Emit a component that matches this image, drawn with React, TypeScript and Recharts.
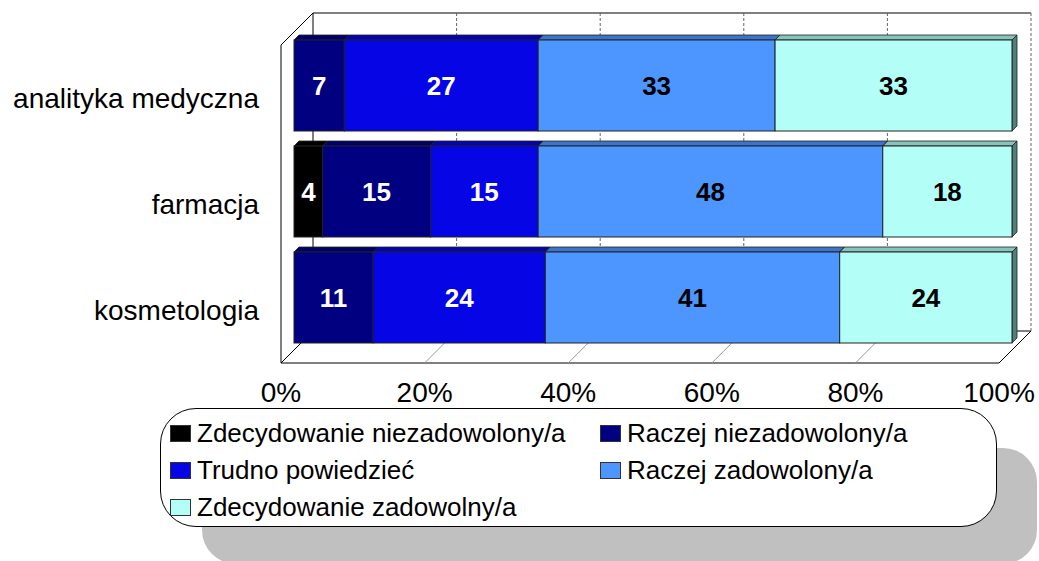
import { BarChart, Bar, XAxis, YAxis, CartesianGrid, Legend, LabelList } from "recharts";

const FONT = '"Liberation Sans", Arial, sans-serif';

const categories = ["analityka medyczna", "farmacja", "kosmetologia"];
const seriesNames = [
  "Zdecydowanie niezadowolony/a",
  "Raczej niezadowolony/a",
  "Trudno powiedzieć",
  "Raczej zadowolony/a",
  "Zdecydowanie zadowolny/a",
];
const zdecydowanieNie = [0, 4, 0];
const raczejNie = [7, 15, 11];
const trudno = [27, 15, 24];
const raczejTak = [33, 48, 41];
const zdecydowanieTak = [33, 18, 24];
const xTicks = [0, 0.2, 0.4, 0.6, 0.8, 1];

// 3D look: bars sit in the middle plane, back wall is BACK px behind, floor front FRONT px ahead
const BACK = 19;
const FRONT = 13;
const DEPTH = 5;

const series = [
  { key: "s1", values: zdecydowanieNie, fill: "#000000", top: "#000000", side: "#000000", text: "#fff" },
  { key: "s2", values: raczejNie, fill: "#000080", top: "#000066", side: "#00004d", text: "#fff" },
  { key: "s3", values: trudno, fill: "#0505E6", top: "#0303B0", side: "#020290", text: "#fff" },
  { key: "s4", values: raczejTak, fill: "#4D96FF", top: "#3B74C8", side: "#2f5ea3", text: "#000" },
  { key: "s5", values: zdecydowanieTak, fill: "#B3FFF7", top: "#86C4BC", side: "#4F807A", text: "#000" },
];

const data = categories.map((name, i) => {
  const row: any = { name };
  series.forEach((s) => (row[s.key] = s.values[i]));
  return row;
});

const Box3D = (p: any) => {
  const { x, y, width: w, height: h, fill, top, side } = p;
  if (!w || w <= 0) return null;
  return (
    <g>
      <polygon
        points={`${x},${y} ${x + DEPTH},${y - DEPTH} ${x + w + DEPTH},${y - DEPTH} ${x + w},${y}`}
        fill={top}
        stroke="#222"
        strokeWidth={0.8}
      />
      <polygon
        points={`${x + w},${y} ${x + w + DEPTH},${y - DEPTH} ${x + w + DEPTH},${y + h - DEPTH} ${x + w},${y + h}`}
        fill={side}
        stroke="#222"
        strokeWidth={0.8}
      />
      <rect x={x} y={y} width={w} height={h} fill={fill} stroke="#222" strokeWidth={1} />
    </g>
  );
};

const gridVertical = (p: any) => {
  const { x1, y1, y2 } = p;
  const idx = p.index ?? Math.round((x1 - 294) / 143.6);
  const first = idx === 0;
  const last = idx === xTicks.length - 1;
  return (
    <g key={`v-${idx}`}>
      <line
        x1={x1 + BACK}
        y1={y1 - BACK}
        x2={x1 + BACK}
        y2={y2 - BACK}
        stroke={first ? "#000" : "#666"}
        strokeDasharray={first ? undefined : "3 2"}
      />
      <line
        x1={x1 - FRONT}
        y1={y2 + FRONT}
        x2={x1 + BACK}
        y2={y2 - BACK}
        stroke={first || last ? "#000" : "#999"}
      />
      {first && (
        <>
          <line x1={x1 - FRONT} y1={y1 + FRONT} x2={x1 - FRONT} y2={y2 + FRONT} stroke="#000" />
          <line x1={x1 - FRONT} y1={y1 + FRONT} x2={x1 + BACK} y2={y1 - BACK} stroke="#000" />
        </>
      )}
    </g>
  );
};

const gridHorizontal = (p: any) => {
  const { x1, x2, y1 } = p;
  const isTop = y1 < 200;
  return (
    <g key={`h-${isTop ? "t" : "b"}`}>
      <line x1={x1 + BACK} y1={y1 - BACK} x2={x2 + BACK} y2={y1 - BACK} stroke="#000" />
      {!isTop && (
        <line x1={x1 - FRONT} y1={y1 + FRONT} x2={x2 - FRONT} y2={y1 + FRONT} stroke="#000" />
      )}
    </g>
  );
};

const XTick = ({ x, y, payload }: any) => (
  <text x={x - FRONT} y={y + 44} textAnchor="middle" fontFamily={FONT} fontSize={28} fill="#000">
    {`${Math.round(payload.value * 100)}%`}
  </text>
);

const YTick = ({ x, y, payload }: any) => (
  <text x={x - 27} y={y + 23} textAnchor="end" fontFamily={FONT} fontSize={28} fill="#000">
    {payload.value}
  </text>
);

const makeLabel = (color: string) => (p: any) => {
  const { x, y, width, height, value } = p;
  if (!value) return null;
  return (
    <text
      x={x + width / 2}
      y={y + height / 2}
      textAnchor="middle"
      dominantBaseline="central"
      fontFamily={FONT}
      fontWeight="bold"
      fontSize={26}
      fill={color}
    >
      {value}
    </text>
  );
};

const LegendBox = (props: any) => {
  const items = [...(props.payload || [])].sort(
    (a: any, b: any) => seriesNames.indexOf(a.value) - seriesNames.indexOf(b.value)
  );
  return (
    <div style={{ position: "relative", width: 837, height: 119, fontFamily: FONT, fontSize: 26 }}>
      <div
        style={{
          position: "absolute",
          left: 42,
          top: 40,
          width: 835,
          height: 116,
          background: "#C0C0C0",
          borderRadius: 34,
        }}
      />
      <div
        style={{
          position: "absolute",
          left: 0,
          top: 0,
          width: 835,
          height: 117,
          background: "#fff",
          border: "1px solid #000",
          borderRadius: 36,
        }}
      />
      {items.map((it: any, i: number) => (
        <div
          key={i}
          style={{
            position: "absolute",
            left: i % 2 === 0 ? 10 : 440,
            top: 7 + Math.floor(i / 2) * 37,
            height: 37,
            display: "flex",
            alignItems: "center",
            whiteSpace: "nowrap",
            color: "#000",
          }}
        >
          <span
            style={{
              display: "inline-block",
              width: 19,
              height: 15,
              background: it.color,
              border: "1px solid #333",
              marginRight: 6,
            }}
          />
          {it.value}
        </div>
      ))}
    </div>
  );
};

export default function App() {
  return (
    <div style={{ position: "absolute", left: 0, top: 0, width: 1039, height: 561, background: "#fff" }}>
      <BarChart
        width={1039}
        height={561}
        data={data}
        layout="vertical"
        stackOffset="expand"
        margin={{ top: 32, right: 27, left: 0, bottom: 171 }}
        barSize={91}
      >
        <CartesianGrid
          vertical={gridVertical}
          horizontal={gridHorizontal}
          horizontalCoordinatesGenerator={({ offset }: any) => [offset.top, offset.top + offset.height]}
        />
        <XAxis
          type="number"
          domain={[0, 1]}
          ticks={xTicks}
          axisLine={false}
          tickLine={false}
          height={40}
          tick={<XTick />}
          interval={0}
        />
        <YAxis type="category" dataKey="name" width={294} axisLine={false} tickLine={false} tick={<YTick />} />
        <Legend
          layout="horizontal"
          verticalAlign="middle"
          align="center"
          content={<LegendBox />}
          wrapperStyle={{ left: 160, top: 408, width: 837, height: 119 }}
        />
        {series.map((s, i) => (
          <Bar
            key={s.key}
            dataKey={s.key}
            name={seriesNames[i]}
            stackId="a"
            fill={s.fill}
            isAnimationActive={false}
            shape={(p: any) => <Box3D {...p} top={s.top} side={s.side} />}
          >
            <LabelList dataKey={s.key} content={makeLabel(s.text)} />
          </Bar>
        ))}
      </BarChart>
    </div>
  );
}
